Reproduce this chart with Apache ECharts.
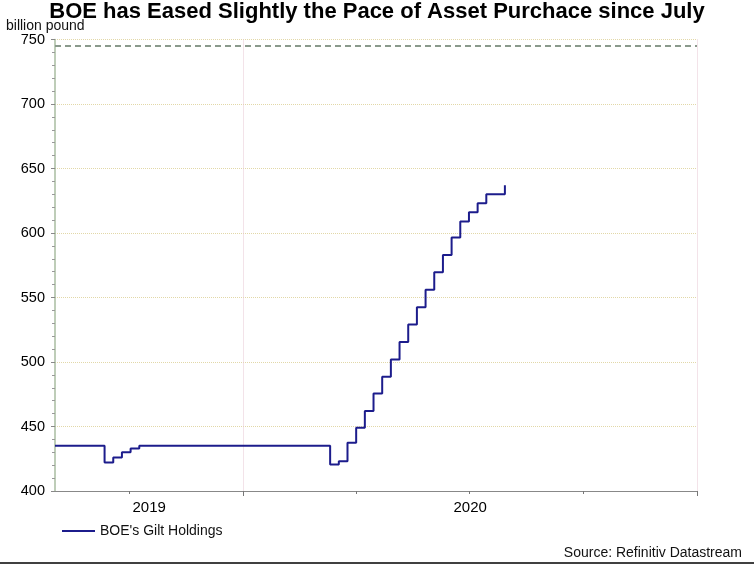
<!DOCTYPE html>
<html>
<head>
<meta charset="utf-8">
<script src="https://cdn.jsdelivr.net/npm/echarts@6/dist/echarts.min.js"></script>
<style>
html,body{margin:0;padding:0;background:#fff;}
#chart{width:754px;height:565px;}
</style>
</head>
<body>
<div id="chart"></div>
<script>
// ---- data ----
const changeDates = [
  '2019-08-02','2019-09-11','2019-09-18','2019-09-25','2019-10-02','2019-10-09',
  '2020-03-11','2020-03-18','2020-03-25','2020-04-01','2020-04-08','2020-04-15',
  '2020-04-22','2020-04-29','2020-05-06','2020-05-13','2020-05-20','2020-05-27',
  '2020-06-03','2020-06-10','2020-06-17','2020-06-24','2020-07-01','2020-07-08',
  '2020-07-15','2020-07-30'
];
const giltHoldings = [
  435, 422, 426, 430, 433, 435,
  420.5, 423, 437.5, 449, 462, 475.5,
  488.5, 502, 515.5, 529, 542.5, 556,
  569.5, 583, 596.5, 609, 616, 623,
  630, 637
];
const targetLevel = 745;
const seriesName = "BOE's Gilt Holdings";
const axisStart = '2019-08-02';
const axisEnd = '2021-01-01';
const yearTicks = ['2020-01-01', '2021-01-01'];
const quarterTicks = ['2019-10-01', '2020-04-01', '2020-07-01', '2020-10-01'];
const yearSpans = [['2019-01-01', '2020-01-01'], ['2020-01-01', '2021-01-01']];
const yTicks = { min: 400, max: 750, interval: 50 };

// ---- helpers ----
function ts(s) { const [y, m, d] = s.split('-').map(Number); return Date.UTC(y, m - 1, d); }
const minT = ts(axisStart), maxT = ts(axisEnd);
const labelValues = yearSpans.map(([a, b]) => (Math.max(ts(a), minT) + Math.min(ts(b), maxT)) / 2);
const seriesData = changeDates.map((d, i) => [ts(d), giltHoldings[i]]);

const FONT = 'Liberation Sans, Arial, sans-serif';
const chart = echarts.init(document.getElementById('chart'), null, { renderer: 'canvas' });
chart.setOption({
  animation: false,
  backgroundColor: '#fff',
  textStyle: { fontFamily: FONT },
  title: [
    { text: 'BOE has Eased Slightly the Pace of Asset Purchace since July', left: 'center', top: 1, padding: 0,
      textStyle: { fontFamily: FONT, fontSize: 22, fontWeight: 'bold', color: '#000' } },
    { text: 'billion pound', left: 6, top: 19, padding: 0,
      textStyle: { fontFamily: FONT, fontSize: 14, fontWeight: 'normal', color: '#111' } },
    { text: 'Source: Refinitiv Datastream', right: 12, top: 546, padding: 0,
      textStyle: { fontFamily: FONT, fontSize: 14, fontWeight: 'normal', color: '#111' } }
  ],
  grid: { left: 55, right: 57, top: 39.5, bottom: 74, containLabel: false },
  legend: {
    data: [seriesName], left: 62, top: 524, padding: 0,
    icon: 'rect', itemWidth: 33, itemHeight: 2, itemGap: 10,
    textStyle: { fontFamily: FONT, fontSize: 14, color: '#111' }
  },
  xAxis: [
    {
      type: 'value', min: minT, max: maxT, scale: true,
      axisLine: { show: true, lineStyle: { color: '#888', width: 1 } },
      axisTick: { show: true, length: 5, customValues: yearTicks.map(ts), lineStyle: { color: '#777' } },
      axisLabel: { show: true, customValues: labelValues, margin: 9, fontSize: 15, color: '#000', fontFamily: FONT,
        formatter: v => String(new Date(v).getUTCFullYear()) },
      splitLine: { show: true, lineStyle: { type: 'dotted', color: '#e8c8d4', width: 1 } }
    },
    {
      type: 'value', min: minT, max: maxT, scale: true, position: 'bottom', gridIndex: 0,
      axisLine: { show: false },
      axisTick: { show: true, length: 3, customValues: quarterTicks.map(ts), lineStyle: { color: '#777' } },
      axisLabel: { show: false },
      splitLine: { show: false }
    }
  ],
  yAxis: {
    type: 'value', min: yTicks.min, max: yTicks.max, interval: yTicks.interval,
    axisLine: { show: true, lineStyle: { color: '#a8bca0', width: 1.5 } },
    axisTick: { show: true, length: 4, lineStyle: { color: '#888' } },
    minorTick: { show: true, splitNumber: 5, length: 3, lineStyle: { color: '#999' } },
    axisLabel: { fontSize: 14.5, color: '#000', margin: 10, fontFamily: FONT },
    splitLine: { show: true, lineStyle: { type: 'dotted', color: '#e2d8a8', width: 1 } }
  },
  series: [{
    name: seriesName, type: 'line', step: 'end', xAxisIndex: 0,
    data: seriesData, symbol: 'none', showSymbol: false,
    lineStyle: { color: '#1c1c8c', width: 2 }, itemStyle: { color: '#1c1c8c' },
    markLine: {
      silent: true, symbol: 'none', label: { show: false },
      lineStyle: { type: [6, 4], color: '#8a9a8c', width: 2 },
      data: [{ yAxis: targetLevel }]
    }
  }],
  graphic: [{
    type: 'line', silent: true,
    shape: { x1: 0, y1: 563, x2: 754, y2: 563 },
    style: { stroke: '#000', lineWidth: 1.5 }
  }]
});
</script>
</body>
</html>
